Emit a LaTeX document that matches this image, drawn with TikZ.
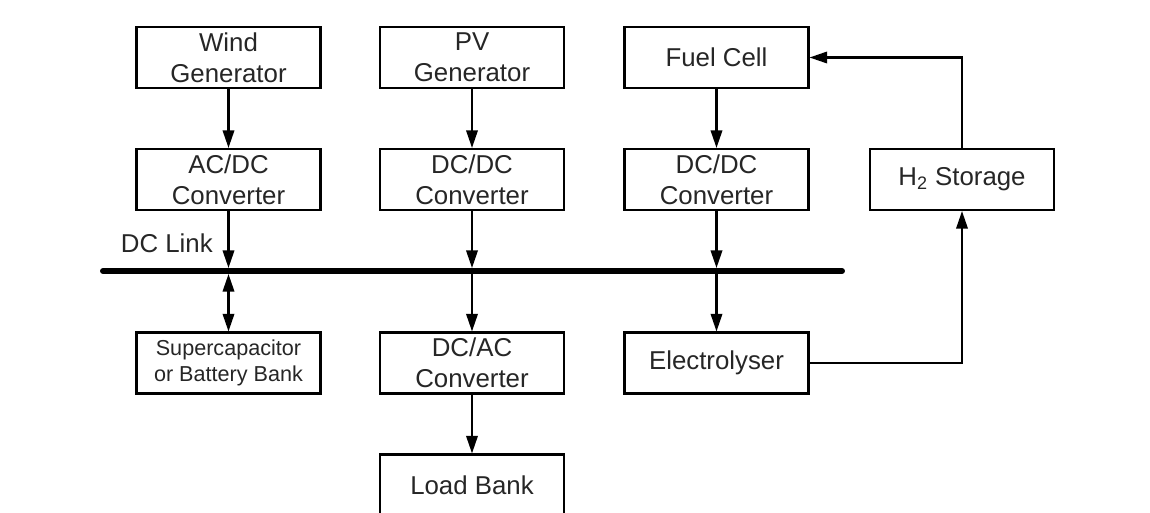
\documentclass[tikz,border=0pt]{standalone}
\usepackage{fontspec}
\setmainfont{Liberation Sans}
\usetikzlibrary{arrows.meta}
\tikzset{>={Triangle[length=10pt,width=6.5pt]}}
\tikzset{blk/.style={draw, line width=1.2pt, minimum width=3.68cm, minimum height=1.22cm,
  inner sep=0pt, align=center, text=black!85, font=\fontsize{14.7}{17.5}\selectfont}}

\begin{document}
\begin{tikzpicture}[x=0.02cm, y=-0.02cm, line width=1.2pt]
\useasboundingbox (0,0) rectangle (1150,513);
\node[blk] (wind) at (228.5,57.5) {Wind\\Generator};
\node[blk] (pv) at (472,57.5) {PV\\Generator};
\node[blk] (fc) at (716.5,57.5) {Fuel Cell};
\node[blk] (acdc) at (228.5,179.5) {AC/DC\\Converter};
\node[blk] (dcdcpv) at (472,179.5) {DC/DC\\Converter};
\node[blk] (dcdcfc) at (716.5,179.5) {DC/DC\\Converter};
\node[blk] (h2) at (962,179.5) {H\textsubscript{2} Storage};
\node[blk, font=\fontsize{12.3}{14.5}\selectfont] (supcap) at (228.5,363) {Supercapacitor\\or Battery Bank};
\node[blk] (dcac) at (472,363) {DC/AC\\Converter};
\node[blk] (elec) at (716.5,363) {Electrolyser};
\node[blk] (load) at (472,485) {Load Bank};
\node[anchor=west, text=black!85, font=\fontsize{14.7}{17.5}\selectfont] (dclink) at (114,243) {DC Link};
\coordinate (busL) at (103,271);
\coordinate (busR) at (842,271);
\draw[line width=3.4pt, line cap=round] (busL) -- (busR);
\draw[->] (wind) -- (acdc);
\draw[->] (pv) -- (dcdcpv);
\draw[->] (fc) -- (dcdcfc);
\draw[->, shorten >=1.7pt] (acdc) -- (acdc.south |- busL);
\draw[->, shorten >=1.7pt] (dcdcpv) -- (dcdcpv.south |- busL);
\draw[->, shorten >=1.7pt] (dcdcfc) -- (dcdcfc.south |- busL);
\draw[<->, shorten <=1.7pt] (supcap.north |- busL) -- (supcap);
\draw[->] (dcac.north |- busL) -- (dcac);
\draw[->] (elec.north |- busL) -- (elec);
\draw[->] (dcac) -- (load);
\draw[->] (h2.north) |- (fc.east);
\draw[->] (elec.east) -| (h2.south);
\end{tikzpicture}
\end{document}
